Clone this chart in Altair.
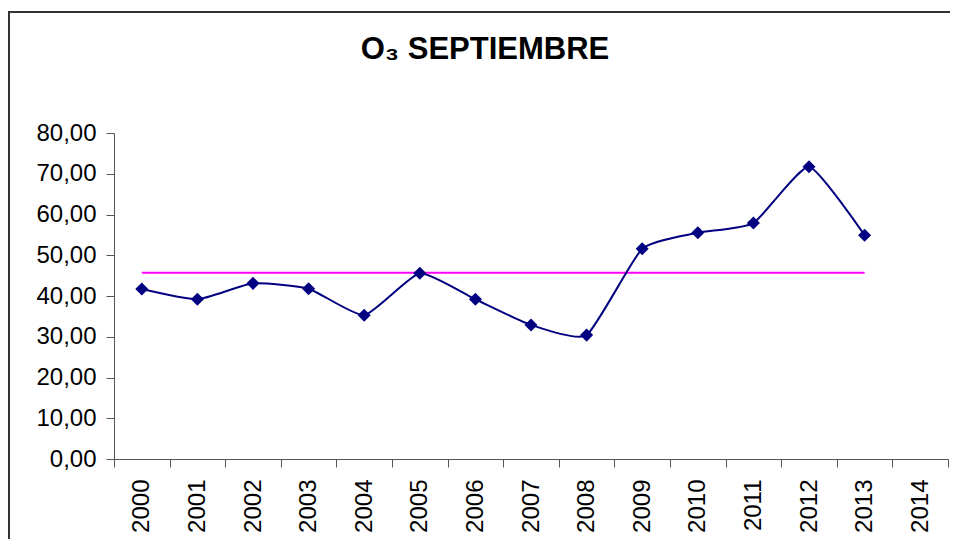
import altair as alt
import pandas as pd

# Categories (x axis, includes an empty 2014 slot)
anios = ["2000", "2001", "2002", "2003", "2004", "2005", "2006",
         "2007", "2008", "2009", "2010", "2011", "2012", "2013", "2014"]
# Years with data
anios_datos = ["2000", "2001", "2002", "2003", "2004", "2005", "2006",
               "2007", "2008", "2009", "2010", "2011", "2012", "2013"]
# O3 September values
valores = [41.7, 39.2, 43.1, 41.8, 35.3, 45.6, 39.2,
           32.9, 30.4, 51.6, 55.5, 57.9, 71.7, 54.9]
# Average line
promedio = [45.7, 45.7, 45.7, 45.7, 45.7, 45.7, 45.7,
            45.7, 45.7, 45.7, 45.7, 45.7, 45.7, 45.7]
y_ticks = [0, 10, 20, 30, 40, 50, 60, 70, 80]
titulo = ["O₃ SEPTIEMBRE"]

df = pd.DataFrame({"anio": anios_datos, "valor": valores, "promedio": promedio})

FONT = "Liberation Sans"
AX = "#555555"

xenc = alt.X(
    "anio:O",
    scale=alt.Scale(type="band", domain=anios, paddingInner=0, paddingOuter=0),
    bandPosition=0.5,
    axis=alt.Axis(
        title=None, tickBand="extent", labelAngle=270, labelAlign="right",
        labelBaseline="middle", labelFont=FONT, labelFontSize=24,
        labelColor="black", labelPadding=12, tickSize=8, tickColor=AX,
        domainColor=AX, grid=False,
    ),
)

yaxis = alt.Axis(
    title=None, values=y_ticks,
    labelExpr="replace(format(datum.value, '.2f'), '.', ',')",
    labelFont=FONT, labelFontSize=24, labelColor="black", labelPadding=10,
    tickSize=8, tickColor=AX, domainColor=AX, grid=False,
)
yscale = alt.Scale(domain=[0, 80], nice=False)

base = alt.Chart(df)

linea = base.mark_line(color="#000080", strokeWidth=2, interpolate="cardinal", tension=0.5).encode(
    x=xenc, y=alt.Y("valor:Q", scale=yscale, axis=yaxis)
)
puntos = base.mark_point(shape="diamond", filled=True, size=170, color="#000080", opacity=1).encode(
    x=xenc, y=alt.Y("valor:Q", scale=yscale, axis=yaxis)
)
media = base.mark_line(color="#FF00FF", strokeWidth=2).encode(
    x=xenc, y=alt.Y("promedio:Q", scale=yscale, axis=yaxis)
)

marco_df = pd.DataFrame({"a": [0]})
marco_sup = alt.Chart(marco_df).mark_rule(color="#333333", strokeWidth=2).encode(
    x=alt.value(-105), x2=alt.value(840), y=alt.value(-121)
)
marco_izq = alt.Chart(marco_df).mark_rule(color="#333333", strokeWidth=2).encode(
    x=alt.value(-105), y=alt.value(-122), y2=alt.value(410)
)

texto_titulo = alt.Chart(pd.DataFrame({"t": titulo})).mark_text(
    font=FONT, fontSize=31, fontWeight="bold", color="black",
    align="center", baseline="alphabetic",
).encode(
    text="t:N", x=alt.value(371), y=alt.value(-74)
)

chart = alt.layer(marco_sup, marco_izq, media, linea, puntos, texto_titulo).properties(
    width=834,
    height=326,
    autosize=alt.AutoSizeParams(type="none"),
    padding={"left": 106, "top": 125, "right": 2, "bottom": 80},
).configure_view(strokeWidth=0)

chart.save("out.html", embed_options={"renderer": "svg", "actions": False})
